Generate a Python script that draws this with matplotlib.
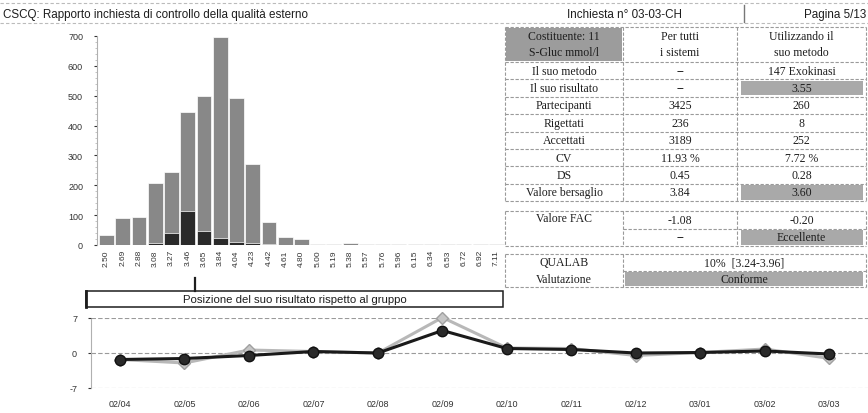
import matplotlib
matplotlib.use('Agg')
import matplotlib.pyplot as plt
from matplotlib.patches import Rectangle
from matplotlib.ticker import MultipleLocator
from matplotlib.transforms import blended_transform_factory
import numpy as np

plt.rcParams['font.family'] = ['Liberation Sans', 'DejaVu Sans']
plt.rcParams['axes.unicode_minus'] = False

# histogram: all participants and participants using the same method
bin_labels = ['2.50', '2.69', '2.88', '3.08', '3.27', '3.46', '3.65', '3.84', '4.04', '4.23',
              '4.42', '4.61', '4.80', '5.00', '5.19', '5.38', '5.57', '5.76', '5.96', '6.15',
              '6.34', '6.53', '6.72', '6.92', '7.11']
all_counts = [33, 90, 94, 206, 243, 444, 499, 698, 493, 272, 76, 28, 19, 4, 4, 6, 4, 4, 2, 2,
              4, 2, 2, 2, 4]
method_counts = [0, 0, 0, 8, 40, 113, 47, 22, 10, 8, 2, 0, 0, 0, 0, 0, 0, 0, 0, 0,
                 0, 0, 0, 0, 0]
your_result = 3.55

# table
head_labels = ['Costituente: 11', 'S-Gluc mmol/l']
head_all = ['Per tutti', 'i sistemi']
head_method = ['Utilizzando il', 'suo metodo']
row_labels = ['Il suo metodo', 'Il suo risultato', 'Partecipanti', 'Rigettati', 'Accettati',
              'CV', 'DS', 'Valore bersaglio']
col_all = ['--', '--', '3425', '236', '3189', '11.93 %', '0.45', '3.84']
col_method = ['147 Exokinasi', '3.55', '260', '8', '252', '7.72 %', '0.28', '3.60']
method_shaded = [False, True, False, False, False, False, False, True]
fac_label = 'Valore FAC'
fac_all = ['-1.08', '--']
fac_method = ['-0.20', 'Eccellente']
qualab_labels = ['QUALAB', 'Valutazione']
qualab_values = ['10%  [3.24-3.96]', 'Conforme']

# history of the FAC values
dates = ['02/04', '02/05', '02/06', '02/07', '02/08', '02/09', '02/10', '02/11', '02/12',
         '03/01', '03/02', '03/03']
hist_all = [-1.3, -2.0, 0.6, 0.3, 0.0, 7.1, 1.0, 0.9, -0.5, 0.1, 0.8, -1.08]
hist_method = [-1.3, -1.1, -0.5, 0.3, 0.0, 4.5, 0.9, 0.7, 0.0, 0.1, 0.4, -0.2]

W, H = 868, 414
fig = plt.figure(figsize=(W / 100, H / 100), dpi=100)


def box(x0, y0, x1, y1):
    # pixel box (y down) -> figure fraction
    return [x0 / W, 1 - y1 / H, (x1 - x0) / W, (y1 - y0) / H]


over = fig.add_axes([0, 0, 1, 1], zorder=5)
over.set_xlim(0, W)
over.set_ylim(H, 0)
over.axis('off')

ink = '#1e1e1e'
grid_c = '#9a9a9a'
shade = '#a9a9a9'
serif = ['Liberation Serif', 'DejaVu Serif']

# page header
over.text(3, 15, 'CSCQ: Rapporto inchiesta di controllo della qualità esterno', fontsize=8.4,
          color=ink, va='center')
over.text(567, 15, 'Inchiesta n° 03-03-CH', fontsize=8.4, color=ink, va='center')
over.text(866, 15, 'Pagina 5/13', fontsize=8.4, color=ink, va='center', ha='right')
over.plot([0, W], [4, 4], color='#bbbbbb', lw=0.8, ls=(0, (3, 2)))
over.plot([0, W], [24, 24], color='#bbbbbb', lw=0.8, ls=(0, (3, 2)))
over.plot([744, 744], [6, 23], color='#777777', lw=1)

# histogram
ax = fig.add_axes(box(97, 37, 507, 246))
x = np.arange(len(bin_labels))
ax.bar(x, all_counts, width=0.92, color='#888888', edgecolor='white', linewidth=0.5)
ax.bar(x, method_counts, width=0.92, color='#2a2a2a', edgecolor='white', linewidth=0.5)
ax.set_xlim(-0.585, 24.65)
ax.set_ylim(0, 700)
ax.set_yticks(range(0, 701, 100))
ax.yaxis.set_minor_locator(MultipleLocator(20))
ax.set_xticks(x, bin_labels, rotation=90)
ax.tick_params(axis='x', length=0, pad=3, labelsize=6, colors='#333333')
ax.tick_params(axis='y', which='major', length=2, pad=8, labelsize=6.5, colors='#333333')
ax.tick_params(axis='y', which='minor', length=1.2, color='#bbbbbb')
for s in ['top', 'right', 'bottom']:
    ax.spines[s].set_visible(False)
ax.spines['left'].set_color('#b0b0b0')
ax.spines['left'].set_linestyle((0, (2, 1)))
ax.patch.set_alpha(0)

# where your result sits in the distribution
xpos = np.interp(your_result, [float(b) for b in bin_labels], x)
tr = blended_transform_factory(ax.transData, over.transData)
over.plot([xpos, xpos], [279, 292], transform=tr, color=ink, lw=1.6, clip_on=False)
over.add_patch(Rectangle((86, 292), 417, 16, fill=False, edgecolor=ink, lw=1.1))
over.plot([86, 86], [292, 308], color=ink, lw=2)
over.text(295, 300.5, 'Posizione del suo risultato rispetto al gruppo', fontsize=8.2,
          color=ink, ha='center', va='center')

# right-hand table
cols = [505, 623, 737, 866]
tline = dict(color='#9a9a9a', lw=0.8, ls=(0, (3, 1.5)))


def hline(y, x0=cols[0], x1=cols[-1]):
    over.plot([x0, x1], [y, y], **tline)


def vline(xx, y0, y1):
    over.plot([xx, xx], [y0, y1], **tline)


def cell_text(xc, yc, s):
    over.text(xc, yc, s, fontsize=8.5, family=serif, color=ink, ha='center', va='center')


c1 = (cols[0] + cols[1]) / 2
c2 = (cols[1] + cols[2]) / 2
c3 = (cols[2] + cols[3]) / 2
c23 = (cols[1] + cols[3]) / 2

top, head_bot = 28, 63
pitch = (202 - head_bot) / len(row_labels)
edges = [top, head_bot] + [head_bot + pitch * (i + 1) for i in range(len(row_labels))]
over.add_patch(Rectangle((cols[0] + 1, top + 1), cols[1] - cols[0] - 2, head_bot - top - 2,
                         color='#9c9c9c', lw=0))
for i, shaded in enumerate(method_shaded):
    if shaded:
        over.add_patch(Rectangle((cols[2] + 4, edges[i + 1] + 1.5), cols[3] - cols[2] - 7,
                                 pitch - 3, color=shade, lw=0))
for y in edges:
    hline(y)
for xx in cols:
    vline(xx, edges[0], edges[-1])
for j, (a, b, c) in enumerate(zip(head_labels, head_all, head_method)):
    yc = 37 + 16 * j
    cell_text(c1, yc, a)
    cell_text(c2, yc, b)
    cell_text(c3, yc, c)
for i, (a, b, c) in enumerate(zip(row_labels, col_all, col_method)):
    yc = edges[i + 1] + pitch / 2
    cell_text(c1, yc, a)
    cell_text(c2, yc, b)
    cell_text(c3, yc, c)

# FAC block
f0, f1 = 212, 247
fm = (f0 + f1) / 2
over.add_patch(Rectangle((cols[2] + 4, fm + 1.5), cols[3] - cols[2] - 7, f1 - fm - 3,
                         color=shade, lw=0))
hline(f0)
hline(f1)
hline(fm, cols[1])
for xx in cols:
    vline(xx, f0, f1)
cell_text(c1, f0 + 7.5, fac_label)
for j in range(2):
    yc = f0 + (f1 - f0) / 4 * (2 * j + 1)
    cell_text(c2, yc, fac_all[j])
    cell_text(c3, yc, fac_method[j])

# QUALAB block
q0, q1 = 255, 288
qm = (q0 + q1) / 2
over.add_patch(Rectangle((cols[1] + 2, qm + 1.5), cols[3] - cols[1] - 5, q1 - qm - 3,
                         color=shade, lw=0))
hline(q0)
hline(q1)
hline(qm, cols[1])
for xx in [cols[0], cols[1], cols[3]]:
    vline(xx, q0, q1)
for j in range(2):
    yc = q0 + (q1 - q0) / 4 * (2 * j + 1)
    cell_text(c1, yc, qualab_labels[j])
    cell_text(c23, yc, qualab_values[j])

# FAC history
ax2 = fig.add_axes(box(91, 319, 868, 389))
xi = np.arange(len(dates))
ax2.plot(xi, hist_all, color='#b8b8b8', lw=2.2, marker='D', ms=6, mfc='#c6c6c6',
         mec='#a0a0a0', clip_on=False, zorder=3)
ax2.plot(xi, hist_method, color='#1a1a1a', lw=2.2, marker='o', ms=7.5, mfc='#2a2a2a',
         mec='#111111', clip_on=False, zorder=4)
ax2.set_xlim(-0.45, 11.6)
ax2.set_ylim(-7, 7)
ax2.set_yticks([-7, 0, 7])
ax2.set_xticks(xi, dates)
ax2.grid(axis='y', color=grid_c, ls=(0, (4, 2)), lw=0.8)
ax2.tick_params(axis='x', length=0, pad=8, labelsize=6.5, colors='#333333')
ax2.tick_params(axis='y', length=2, pad=8, labelsize=6.5, colors='#333333')
for s in ['top', 'right', 'bottom']:
    ax2.spines[s].set_visible(False)
ax2.spines['left'].set_color('#b0b0b0')
ax2.spines['left'].set_linestyle((0, (2, 1)))
ax2.patch.set_alpha(0)

fig.savefig('out.png', dpi=100)
